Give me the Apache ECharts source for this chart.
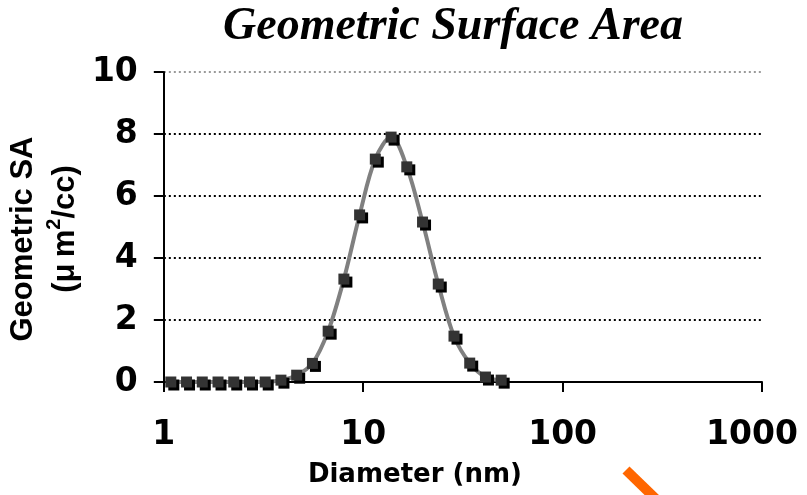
<!DOCTYPE html>
<html>
<head>
<meta charset="utf-8">
<script src="https://cdn.jsdelivr.net/npm/echarts@6/dist/echarts.min.js"></script>
<style>
html,body{margin:0;padding:0;background:#fff;}
#chart{width:807px;height:495px;}
</style>
</head>
<body>
<div id="chart"></div>
<script>
// ---- data ----
const diameters = [1.084, 1.300, 1.559, 1.870, 2.242, 2.689, 3.225, 3.867, 4.638, 5.563, 6.671, 8.000, 9.592, 11.50, 13.80, 16.54, 19.84, 23.79, 28.53, 34.21, 41.03, 49.20];
const geoSA     = [0, 0, 0, 0, 0, 0, 0, 0.06, 0.22, 0.6, 1.64, 3.32, 5.39, 7.19, 7.9, 6.94, 5.16, 3.16, 1.48, 0.61, 0.16, 0.06];
const xTicks = [1, 10, 100, 1000];
const yTicks = [0, 2, 4, 6, 8, 10];
const titleText = 'Geometric Surface Area';
const xName = 'Diameter (nm)';
const yNameLine1 = 'Geometric SA';
const yNameLine2 = ['(μ\u2009m', '2', '/cc)'];

const chart = echarts.init(document.getElementById('chart'), null, {renderer: 'canvas'});
const pts = diameters.map((d, i) => [d, geoSA[i]]);
const wideBold = {fontFamily: 'DejaVu Sans', fontWeight: 'bold', color: '#000'};
const sansBold = {fontFamily: 'Liberation Sans', fontWeight: 'bold', color: '#000'};

chart.setOption({
  animation: false,
  backgroundColor: '#fff',
  grid: {left: 163, right: 45, top: 72, bottom: 113, containLabel: false},
  xAxis: {
    type: 'log', logBase: 10, min: xTicks[0], max: xTicks[xTicks.length - 1],
    name: xName, nameLocation: 'middle', nameGap: 80,
    nameTextStyle: Object.assign({fontSize: 26, padding: [0, 96, 0, 0]}, wideBold),
    axisLine: {show: true, onZero: false, lineStyle: {color: '#000', width: 2}},
    axisTick: {show: true, inside: false, length: 10, lineStyle: {color: '#000', width: 2}},
    minorTick: {show: false},
    splitLine: {show: false},
    axisLabel: Object.assign({fontSize: 33, margin: 37,
      formatter: v => (v === 1000 ? '{r|' + v + '}' : String(v)),
      rich: {r: Object.assign({fontSize: 33, padding: [0, 20, 0, 0]}, wideBold)}
    }, wideBold)
  },
  yAxis: {
    type: 'value', min: yTicks[0], max: yTicks[yTicks.length - 1], interval: 2,
    name: '{a1|' + yNameLine1 + '}\n{a|' + yNameLine2[0] + '}{s|' + yNameLine2[1] + '}{a2|' + yNameLine2[2] + '}',
    nameLocation: 'middle', nameGap: 76, nameRotate: 90,
    nameTextStyle: {
      rich: {
        a1: Object.assign({fontSize: 31, lineHeight: 42, align: 'center', padding: [0, 24, 0, 0]}, sansBold),
        a: Object.assign({fontSize: 31, lineHeight: 42, align: 'center'}, sansBold),
        a2: Object.assign({fontSize: 31, lineHeight: 42, align: 'center', padding: [0, 4, 0, 0]}, sansBold),
        s: Object.assign({fontSize: 20, lineHeight: 26, verticalAlign: 'top', align: 'center'}, sansBold)
      }
    },
    axisLine: {show: true, lineStyle: {color: '#000', width: 2}},
    axisTick: {show: true, inside: false, length: 10, lineStyle: {color: '#000', width: 2}},
    splitLine: {show: true, lineStyle: {color: ['#000', '#000', '#000', '#000', '#000', '#999'], width: 2, type: [2, 3]}},
    axisLabel: Object.assign({fontSize: 33, margin: 26}, wideBold)
  },
  series: [{
    type: 'line',
    data: pts,
    smooth: 0.35,
    symbol: 'rect',
    symbolSize: 11,
    lineStyle: {color: '#808080', width: 4},
    itemStyle: {color: '#333', shadowColor: '#000', shadowOffsetX: 3, shadowOffsetY: 3, shadowBlur: 0},
    z: 3
  }],
  graphic: [
    {type: 'text', x: 453, y: 27, style: {text: titleText, textAlign: 'center', textVerticalAlign: 'middle',
      font: 'italic bold 46px "Liberation Serif", serif', fill: '#000'}},
    {type: 'line', shape: {x1: 626, y1: 470, x2: 660, y2: 503}, style: {stroke: '#FF6600', lineWidth: 10}}
  ]
});
</script>
</body>
</html>
